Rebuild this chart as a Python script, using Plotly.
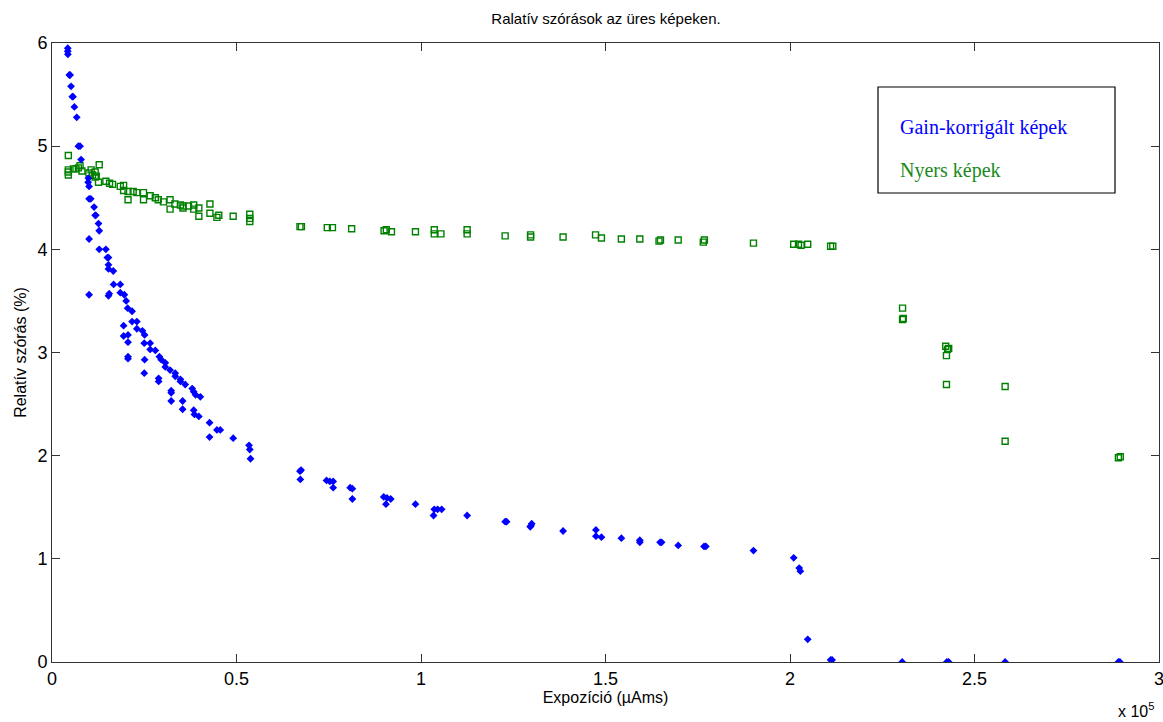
import plotly.graph_objects as go

# Gain-korrigált képek (kék pontok)
gain_x = [4270, 4270, 4300, 4700, 4900, 5160, 5500, 5700, 6060, 6700, 7150, 7600, 7880,
          9870, 9800, 10050, 10050, 10500, 10050, 10050,
          11400, 11700, 11870, 12600, 12800, 12800,
          14600, 15000, 15300, 15300, 15300, 16600, 15300, 15500,
          16700, 18500, 18500, 19600, 20100, 20500, 21700,
          21700, 23000, 19400, 23000, 24500, 19400, 20600, 25100,
          20600, 25000, 26600, 26600, 28000, 20600, 20600, 25100, 29100, 29600, 30700, 30700,
          32000, 33400, 25000, 33400, 34800, 34800, 36100, 28900, 28900,
          38000, 38400, 38900, 40200, 32300, 32300, 32300, 35400, 35400, 38400, 38600, 39800,
          42700, 42700, 44700, 45600, 49100, 53400, 53600, 53800,
          67200, 67500, 67300, 74400, 75300, 76200, 76200, 80800, 81400, 81400,
          89900, 90800, 91800, 90500, 98500, 103600, 104500, 105600, 103400, 112500, 122800, 123200,
          129600, 130000, 129800, 138500, 147400, 147400, 148900, 154300, 159300, 159300, 164800, 165200,
          169700, 176700, 177200, 190100, 201000, 202500, 202800, 204800, 211000, 211400,
          230400, 242500, 243000, 258300, 289000, 289400]
gain_y = [5.95, 5.92, 5.89, 5.69, 5.69, 5.58, 5.48, 5.48, 5.38, 5.28, 5.00, 5.00, 4.87,
          4.69, 4.65, 4.61, 4.49, 4.49, 4.10, 3.56,
          4.41, 4.33, 4.33, 4.25, 4.18, 4.00,
          4.00, 3.92, 3.92, 3.85, 3.81, 3.79, 3.55, 3.57,
          3.66, 3.66, 3.58, 3.56, 3.50, 3.43, 3.40,
          3.30, 3.30, 3.26, 3.23, 3.21, 3.16, 3.17, 3.17,
          3.10, 3.09, 3.09, 3.03, 3.02, 2.94, 2.96, 2.93, 2.96, 2.93, 2.90, 2.86,
          2.83, 2.80, 2.80, 2.77, 2.74, 2.72, 2.69, 2.75, 2.72,
          2.65, 2.62, 2.59, 2.57, 2.63, 2.61, 2.53, 2.53, 2.45, 2.44, 2.40, 2.38,
          2.32, 2.18, 2.25, 2.25, 2.17, 2.10, 2.06, 1.97,
          1.85, 1.86, 1.77, 1.76, 1.75, 1.75, 1.69, 1.69, 1.68, 1.58,
          1.60, 1.59, 1.58, 1.53, 1.53, 1.48, 1.48, 1.48, 1.42, 1.42, 1.36, 1.36,
          1.31, 1.34, 1.32, 1.27, 1.28, 1.22, 1.21, 1.20, 1.18, 1.16, 1.16, 1.16,
          1.13, 1.12, 1.12, 1.08, 1.01, 0.91, 0.88, 0.22, 0.02, 0.02,
          0.0, 0.0, 0.0, 0.0, 0.0, 0.0]

# Nyers képek (zöld négyzetek)
nyers_x = [4430, 4430, 4430, 4430, 5800, 6500, 7150, 7600, 8100, 10600, 10000, 12800, 11700, 11700,
           11000, 12600, 12000, 14600, 15600, 16400, 18500, 19400, 19400, 20600, 20600, 22000,
           23000, 24800, 24800, 26600, 28000, 28800, 30200, 32000, 32000, 33300, 34800, 35500,
           35500, 37000, 38400, 38400, 39800, 39800, 42800, 42800, 45200, 44700, 49100, 53600,
           53600, 53600,
           67200, 67600, 74600, 76000, 81200, 90000, 90600, 92000, 98500, 103600, 103600, 105400,
           112500, 112500, 122800, 129700, 129700, 138500, 147300, 148900, 154300, 159300,
           164500, 164900, 169700, 176500, 176800, 190100, 201000, 202300, 203000, 204800,
           211000, 211600, 230500, 230500, 230700, 242200, 242700, 243000, 242400, 242400,
           258300, 258300, 289000, 289500]
nyers_y = [4.91, 4.77, 4.72, 4.75, 4.78, 4.78, 4.79, 4.81, 4.76, 4.77, 4.74, 4.82, 4.75, 4.70,
           4.72, 4.65, 4.71, 4.66, 4.64, 4.63, 4.61, 4.62, 4.57, 4.56, 4.48, 4.56,
           4.55, 4.55, 4.48, 4.52, 4.50, 4.48, 4.46, 4.48, 4.39, 4.44, 4.43, 4.40,
           4.42, 4.42, 4.43, 4.39, 4.40, 4.32, 4.44, 4.35, 4.33, 4.31, 4.32, 4.34,
           4.30, 4.27,
           4.22, 4.22, 4.21, 4.21, 4.20, 4.18, 4.19, 4.17, 4.17, 4.19, 4.15, 4.15,
           4.19, 4.15, 4.13, 4.14, 4.12, 4.12, 4.14, 4.11, 4.10, 4.10,
           4.08, 4.09, 4.09, 4.07, 4.09, 4.06, 4.05, 4.05, 4.04, 4.05,
           4.03, 4.03, 3.43, 3.32, 3.33, 3.06, 3.03, 3.04, 2.97, 2.69,
           2.67, 2.14, 1.98, 1.99]

x_ticks = [0, 50000, 100000, 150000, 200000, 250000, 300000]
x_labels = ['0', '0.5', '1', '1.5', '2', '2.5', '3']
y_ticks = [0, 1, 2, 3, 4, 5, 6]

fig = go.Figure()
fig.add_trace(go.Scatter(x=nyers_x, y=nyers_y, mode='markers', name='Nyers képek',
                         marker=dict(symbol='square-open', size=6, color='#008000',
                                     line=dict(width=1.4, color='#008000'))))
fig.add_trace(go.Scatter(x=gain_x, y=gain_y, mode='markers', name='Gain-korrigált képek',
                         marker=dict(symbol='diamond', size=6, color='#0000FF')))

axis_font = dict(family='Liberation Sans Narrow, Arial Narrow, Liberation Sans', size=18, color='black')

fig.update_layout(
    width=1163, height=722,
    margin=dict(l=52, r=4, t=43, b=60),
    plot_bgcolor='white', paper_bgcolor='white',
    showlegend=False,
    font=dict(family='Liberation Sans, Arial', color='black'),
    title=dict(text='Ralatív szórások az üres képeken.', x=606 / 1163, xanchor='center',
               y=1 - 19 / 722, yanchor='middle', font=dict(size=15)),
    xaxis=dict(range=[0, 300000], tickvals=x_ticks, ticktext=x_labels, ticks='inside',
               ticklen=8, tickcolor='#333', showline=True, linecolor='#333', linewidth=1,
               mirror='allticks', showgrid=False, zeroline=False, tickfont=axis_font,
               automargin=False, ticklabeloverflow='allow',
               title=dict(text='Expozíció (µAms)', font=dict(size=16), standoff=4)),
    yaxis=dict(range=[0, 6], tickvals=y_ticks, ticks='inside', ticklen=8, tickcolor='#333',
               showline=True, linecolor='#333', linewidth=1, mirror='allticks',
               showgrid=False, zeroline=False, tickfont=axis_font, automargin=False,
               title=dict(text='Relatív szórás (%)', font=dict(size=16), standoff=6)),
)

fig.add_annotation(text='x 10<sup>5</sup>', xref='paper', yref='paper', x=0.997, y=-48 / 619,
                   xanchor='right', yanchor='middle', showarrow=False,
                   font=dict(family='Liberation Sans Narrow, Arial Narrow, Liberation Sans', size=16))

# jelmagyarázat doboz
fig.add_shape(type='rect', xref='paper', yref='paper',
              x0=(878 - 52) / 1107, x1=(1115 - 52) / 1107,
              y0=(662 - 193) / 619, y1=(662 - 87) / 619,
              line=dict(color='black', width=1.2), fillcolor='white', layer='above')
fig.add_annotation(text='Gain-korrigált képek', xref='paper', yref='paper',
                   x=(898 - 52) / 1107, y=(662 - 128) / 619, xanchor='left', yanchor='middle',
                   showarrow=False,
                   font=dict(family='Liberation Serif, DejaVu Serif', size=20, color='#0000FF'))
fig.add_annotation(text='Nyers képek', xref='paper', yref='paper',
                   x=(898 - 52) / 1107, y=(662 - 170) / 619, xanchor='left', yanchor='middle',
                   showarrow=False,
                   font=dict(family='Liberation Serif, DejaVu Serif', size=20, color='#1a8a1a'))

fig.write_html('out.html', config={'displayModeBar': False},
               post_script="document.body.style.margin='0px';")
